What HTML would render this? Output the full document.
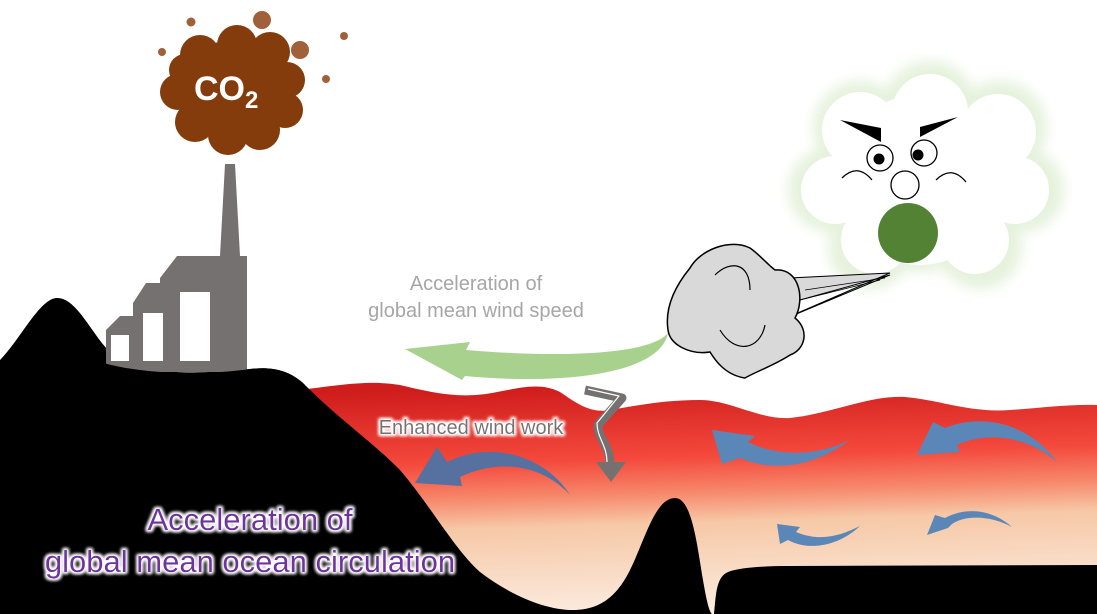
<!DOCTYPE html>
<html><head><meta charset="utf-8"><style>
html,body{margin:0;padding:0;background:#fff;overflow:hidden}
svg{display:block}
</style></head><body>
<svg width="1097" height="614" viewBox="0 0 1097 614" xmlns="http://www.w3.org/2000/svg">
<defs>
<linearGradient id="sea" x1="0.45" y1="0" x2="0.55" y2="1" gradientUnits="objectBoundingBox">
<stop offset="0" stop-color="#cf1c1c"/>
<stop offset="0.32" stop-color="#f4493c"/>
<stop offset="0.47" stop-color="#f6876a"/>
<stop offset="0.6" stop-color="#f6c8a6"/>
<stop offset="1" stop-color="#fcede2"/>
</linearGradient>
<filter id="glow" x="-20%" y="-20%" width="140%" height="140%"><feGaussianBlur stdDeviation="6"/></filter>
<filter id="tglow" x="-10%" y="-30%" width="120%" height="160%">
<feMorphology in="SourceAlpha" operator="dilate" radius="1.5" result="d"/>
<feGaussianBlur in="d" stdDeviation="1.5" result="b"/>
<feFlood flood-color="#fff"/><feComposite in2="b" operator="in" result="w"/>
<feMerge><feMergeNode in="w"/><feMergeNode in="w"/><feMergeNode in="SourceGraphic"/></feMerge>
</filter>
</defs>

<path d="M300,390 C340,385 370,380 400,385 C430,392 460,400 497,392 C520,388 540,382 560,392 C575,402 590,414 610,410 C640,405 665,400 700,400 C730,400 760,420 790,418 C830,414 870,395 905,397 C940,400 970,413 1010,410 C1040,408 1070,404 1097,405 L1097,614 L300,614 Z" fill="url(#sea)"/>

<path d="M0,360 C20,340 40,298 57,298 C80,298 95,345 120,360 C150,375 200,374 250,369 C275,366 292,372 305,385 C340,420 370,440 400,470 C430,505 455,550 480,572 C510,595 545,610 573,610 C605,610 620,590 630,570 C645,540 655,498 675,498 C692,498 697,545 703,580 C706,598 709,612 712,614 L0,614 Z" fill="#000"/>
<path d="M714,614 C716,595 716,577 728,572 C738,568 760,566 790,566 L1097,565 L1097,614 Z" fill="#000"/>

<path d="M225,164 L235,164 L240,256 L247,256 L247,372 L106,372 L106,330 L120,316 L133,316 L133,303 L146,283 L160,283 L160,278 L177,256 L220,256 Z" fill="#767171"/>
<rect x="111" y="335" width="18" height="26" fill="#fff"/>
<rect x="143" y="313" width="20" height="48" fill="#fff"/>
<rect x="180" y="292" width="30" height="69" fill="#fff"/>
<path d="M100,362 C140,374 200,376 250,369 C275,366 292,372 305,385 L305,400 L100,400 Z" fill="#000"/>

<g fill="#843c0c">
<circle cx="262" cy="20" r="9" fill="#a0613a"/>
<circle cx="300" cy="50" r="9" fill="#a0613a"/>
<circle cx="191" cy="22" r="4.5" fill="#a0613a"/>
<circle cx="162" cy="52" r="4" fill="#a0613a"/>
<circle cx="344" cy="36" r="4" fill="#a0613a"/>
<circle cx="326" cy="79" r="4" fill="#a0613a"/>
<circle cx="232" cy="90" r="50"/>
<circle cx="200" cy="55" r="20"/><circle cx="237" cy="45" r="20"/><circle cx="270" cy="52" r="20"/>
<circle cx="287" cy="80" r="18"/><circle cx="285" cy="110" r="18"/><circle cx="260" cy="130" r="20"/>
<circle cx="228" cy="135" r="20"/><circle cx="195" cy="122" r="20"/><circle cx="178" cy="92" r="18"/>
<circle cx="185" cy="70" r="16"/>
</g>
<text x="194" y="100" font-family="Liberation Sans, sans-serif" font-weight="bold" font-size="34" fill="#fff">CO<tspan font-size="24" dy="8">2</tspan></text>

<g>
<g fill="#e6f2dd" filter="url(#glow)">
<circle cx="920" cy="180" r="92"/><circle cx="860" cy="128" r="47"/><circle cx="930" cy="108" r="47"/><circle cx="1000" cy="128" r="47"/>
<circle cx="830" cy="190" r="42"/><circle cx="1022" cy="190" r="42"/><circle cx="870" cy="247" r="42"/><circle cx="980" cy="247" r="42"/>
</g>
<g fill="#fff">
<circle cx="920" cy="180" r="85"/><circle cx="860" cy="130" r="38"/><circle cx="930" cy="112" r="38"/><circle cx="998" cy="132" r="38"/>
<circle cx="835" cy="190" r="34"/><circle cx="1015" cy="190" r="34"/><circle cx="875" cy="240" r="34"/><circle cx="975" cy="240" r="34"/>
</g>
<path d="M840,120 L881,128 L881,142 Z" fill="#000"/>
<path d="M958,117 L920,127 L920,137 Z" fill="#000"/>
<circle cx="880" cy="158" r="13" fill="#fff" stroke="#000" stroke-width="1.3"/>
<circle cx="879" cy="159" r="5.5" fill="#000"/>
<circle cx="924" cy="153" r="13" fill="#fff" stroke="#000" stroke-width="1.3"/>
<circle cx="918" cy="155" r="5.5" fill="#000"/>
<path d="M842,178 C852,168 862,168 872,180" fill="none" stroke="#000" stroke-width="1.3"/>
<path d="M936,180 C946,170 956,170 966,182" fill="none" stroke="#000" stroke-width="1.3"/>
<circle cx="905" cy="185" r="14" fill="#fff" stroke="#000" stroke-width="1.3"/>
<circle cx="908" cy="233" r="30" fill="#548235"/>
</g>

<path d="M890,273 L790,278 L795,300 L800,300 L890,275 L770,325 Z" fill="#d9d9d9" stroke="#000" stroke-width="1"/>
<g fill="#d9d9d9" stroke="#000" stroke-width="1.5">
<path d="M690,268 C700,250 730,238 750,248 C760,255 768,265 775,270 C800,268 805,300 795,318 C810,330 805,350 790,355 C775,365 755,372 745,378 C725,375 715,360 710,352 C690,355 670,345 668,330 C665,310 672,290 690,268 Z"/>
</g>
<path d="M715,275 C730,260 750,262 750,290" fill="none" stroke="#000" stroke-width="1.2"/>
<path d="M720,330 C735,355 760,350 765,325" fill="none" stroke="#000" stroke-width="1.2"/>
<path d="M800,300 L880,280 M805,290 L885,278" stroke="#000" stroke-width="0.8"/>

<path d="M668,333 C660,375 560,385 465,376 L462,380 L405,349 L470,342 L466,350 C560,358 650,355 668,333 Z" fill="#a9d18e"/>
<text x="476" y="290" text-anchor="middle" font-family="Liberation Sans, sans-serif" font-size="20" fill="#a6a6a6">Acceleration of</text>
<text x="476" y="317" text-anchor="middle" font-family="Liberation Sans, sans-serif" font-size="20" fill="#a6a6a6">global mean wind speed</text>

<path d="M585,390 L622,398 L598,425 C598,440 610,445 610,465" fill="none" stroke="#767171" stroke-width="9" stroke-linejoin="round"/>
<path d="M588,389 L619,396 L597,423 C597,438 607,445 607,462" fill="none" stroke="#fff" stroke-width="1.2" stroke-linejoin="round"/>
<polygon points="596,462 626,462 611,482" fill="#767171"/>

<g fill="#5b87b8">
<path d="M415,483 L437,447 L447,462 C490,440 545,455 570,495 C540,462 495,460 460,477 L462,486 Z" fill="#56709f"/>
<path d="M712,430 L755,436 L748,442 C780,458 820,455 850,440 C820,462 780,475 740,458 L722,464 Z"/>
<path d="M917,455 L933,422 L945,428 C985,412 1030,425 1057,462 C1030,438 990,430 957,445 L960,452 Z"/>
<path d="M777,524 L800,527 L796,532 C820,542 840,536 860,526 C840,545 810,552 788,540 L780,544 Z"/>
<path d="M927,535 L935,515 L945,518 C970,505 995,512 1012,527 C990,515 965,515 952,524 L948,528 Z"/>
</g>

<text x="471" y="434" text-anchor="middle" font-family="Liberation Sans, sans-serif" font-size="20" fill="#767171" filter="url(#tglow)">Enhanced wind work</text>
<text x="250" y="530" text-anchor="middle" font-family="Liberation Sans, sans-serif" font-size="31" fill="#7030a0" filter="url(#tglow)">Acceleration of</text>
<text x="250" y="572" text-anchor="middle" font-family="Liberation Sans, sans-serif" font-size="31" fill="#7030a0" filter="url(#tglow)">global mean ocean circulation</text>
</svg>
</body></html>
